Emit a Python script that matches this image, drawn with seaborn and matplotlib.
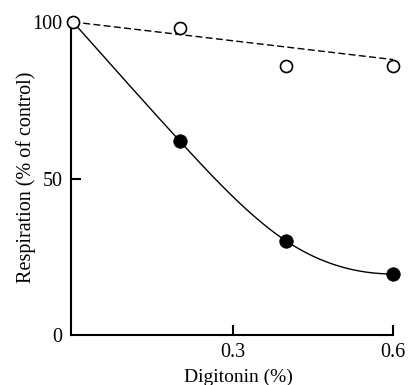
import numpy as np
import pandas as pd
import matplotlib
matplotlib.use("Agg")
import matplotlib.pyplot as plt
import seaborn as sns

# Data
digitonin = [0.0, 0.2, 0.4, 0.6]
resp_filled = [100, 62, 30, 19.5]
resp_open = [100, 98, 86, 86]
dash_x = [0.0, 0.6]
dash_y = [100, 88]
x_ticks = [0.3, 0.6]
y_ticks = [0, 50, 100]


def spline(x, y, xn, end_slope=0.0):
    """Cubic spline: natural at the left end, clamped slope at the right end."""
    x = np.asarray(x, float); y = np.asarray(y, float)
    n = len(x); h = np.diff(x)
    A = np.zeros((n, n)); b = np.zeros(n)
    A[0, 0] = 1.0
    for i in range(1, n - 1):
        A[i, i - 1] = h[i - 1]; A[i, i] = 2 * (h[i - 1] + h[i]); A[i, i + 1] = h[i]
        b[i] = 6 * ((y[i + 1] - y[i]) / h[i] - (y[i] - y[i - 1]) / h[i - 1])
    A[-1, -2] = h[-1]; A[-1, -1] = 2 * h[-1]
    b[-1] = 6 * (end_slope - (y[-1] - y[-2]) / h[-1])
    M = np.linalg.solve(A, b)
    out = np.empty_like(xn)
    for j, xv in enumerate(xn):
        k = int(np.clip(np.searchsorted(x, xv, side="right") - 1, 0, n - 2))
        t1 = x[k + 1] - xv; t0 = xv - x[k]
        out[j] = (M[k] * t1**3 + M[k + 1] * t0**3) / (6 * h[k]) \
            + (y[k] / h[k] - M[k] * h[k] / 6) * t1 \
            + (y[k + 1] / h[k] - M[k + 1] * h[k] / 6) * t0
    return out


sns.set_theme(style="ticks")
plt.rcParams["font.family"] = ["Liberation Serif", "DejaVu Serif"]

fig = plt.figure(figsize=(4.08, 3.85), dpi=100)
ax = fig.add_axes([71 / 408, 50 / 385, (393 - 71) / 408, (335 - 22) / 385])

xs = np.linspace(0, 0.6, 300)
curve = pd.DataFrame({"x": xs, "y": spline(digitonin, resp_filled, xs)})
sns.lineplot(data=curve, x="x", y="y", ax=ax, color="black", lw=1.0, clip_on=False)
dash = pd.DataFrame({"x": dash_x, "y": dash_y})
sns.lineplot(data=dash, x="x", y="y", ax=ax, color="black", lw=1.0,
             linestyle=(0, (5, 2.4)), clip_on=False)

df_f = pd.DataFrame({"x": digitonin[1:], "y": resp_filled[1:]})
sns.scatterplot(data=df_f, x="x", y="y", ax=ax, s=95, color="black",
                edgecolor="black", linewidth=0.5, clip_on=False, zorder=5)
df_o = pd.DataFrame({"x": digitonin, "y": resp_open})
sns.scatterplot(data=df_o, x="x", y="y", ax=ax, s=75, facecolor="white",
                edgecolor="black", linewidth=1.2, clip_on=False, zorder=6)

ax.set_xlim(-0.00375, 0.6)
ax.set_ylim(0, 100)
sns.despine(ax=ax)
for s in ["left", "bottom"]:
    ax.spines[s].set_linewidth(1.5)
    ax.spines[s].set_color("black")

ax.set_xticks(x_ticks)
ax.set_xticklabels(["0.3", "0.6"])
ax.set_yticks(y_ticks)
ax.set_yticklabels(["0", "50", "100"])
ax.tick_params(axis="both", direction="in", length=7.5, width=1.5, color="black",
               labelsize=14.5, labelcolor="black", pad=6)
for t, v in zip(ax.yaxis.get_major_ticks(), y_ticks):
    if v != 50:
        t.tick1line.set_visible(False)

ax.set_xlabel("Digitonin (%)", fontsize=14, color="black")
ax.set_ylabel("Respiration (% of control)", fontsize=14.5, color="black")
ax.xaxis.set_label_coords((238 - 71) / 322, (335 - 369) / 313)
ax.yaxis.set_label_coords((36 - 71) / 322, (335 - 177) / 313)

fig.savefig("out.png", dpi=100)
